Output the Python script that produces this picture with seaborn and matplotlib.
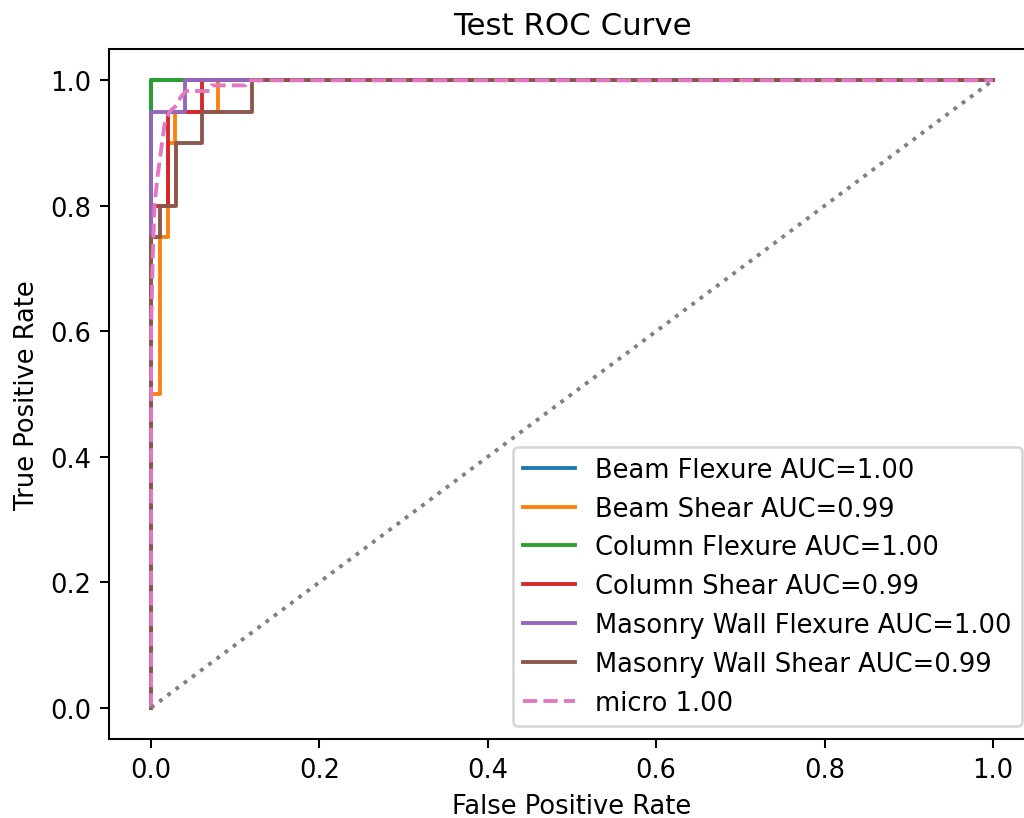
import matplotlib
matplotlib.use("Agg")
import matplotlib.pyplot as plt
import seaborn as sns
import pandas as pd

# ROC points (fpr, tpr per class)
classes = ['Beam Flexure', 'Beam Shear', 'Column Flexure', 'Column Shear',
           'Masonry Wall Flexure', 'Masonry Wall Shear']
aucs = ['1.00', '0.99', '1.00', '0.99', '1.00', '0.99']

fpr_beam_flex = [0.0, 0.0, 1.0]
tpr_beam_flex = [0.0, 1.0, 1.0]

fpr_beam_shear = [0.0, 0.0, 0.01, 0.01, 0.02, 0.02, 0.028, 0.028, 0.08, 0.08, 1.0]
tpr_beam_shear = [0.0, 0.5, 0.5, 0.75, 0.75, 0.9, 0.9, 0.95, 0.95, 1.0, 1.0]

fpr_col_flex = [0.0, 0.0, 1.0]
tpr_col_flex = [0.0, 1.0, 1.0]

fpr_col_shear = [0.0, 0.0, 0.02, 0.02, 0.06, 0.06, 1.0]
tpr_col_shear = [0.0, 0.8, 0.8, 0.95, 0.95, 1.0, 1.0]

fpr_mw_flex = [0.0, 0.0, 0.04, 0.04, 1.0]
tpr_mw_flex = [0.0, 0.95, 0.95, 1.0, 1.0]

fpr_mw_shear = [0.0, 0.0, 0.01, 0.01, 0.03, 0.03, 0.06, 0.06, 0.12, 0.12, 1.0]
tpr_mw_shear = [0.0, 0.75, 0.75, 0.8, 0.8, 0.9, 0.9, 0.95, 0.95, 1.0, 1.0]

fpr_micro = [0.0, 0.0, 0.002, 0.004, 0.008, 0.012, 0.016, 0.022, 0.03, 0.036,
             0.042, 0.07, 0.072, 0.112, 0.115, 1.0]
tpr_micro = [0.0, 0.6, 0.72, 0.8, 0.85, 0.89, 0.93, 0.95, 0.96, 0.975,
             0.983, 0.983, 0.992, 0.992, 1.0, 1.0]

curves = [(fpr_beam_flex, tpr_beam_flex), (fpr_beam_shear, tpr_beam_shear),
          (fpr_col_flex, tpr_col_flex), (fpr_col_shear, tpr_col_shear),
          (fpr_mw_flex, tpr_mw_flex), (fpr_mw_shear, tpr_mw_shear)]

colors = sns.color_palette('tab10')

# reference is a cropped hi-dpi render, so scale everything via dpi
dpi = 185
fig = plt.figure(figsize=(1024 / dpi, 819 / dpi), dpi=dpi)
ax = fig.add_axes([109 / 1024, 79 / 819, 926 / 1024, 690 / 819])

for i, (fpr, tpr) in enumerate(curves):
    df = pd.DataFrame({'fpr': fpr, 'tpr': tpr})
    sns.lineplot(data=df, x='fpr', y='tpr', sort=False, estimator=None,
                 color=colors[i], label=f'{classes[i]} AUC={aucs[i]}', ax=ax)

df_micro = pd.DataFrame({'fpr': fpr_micro, 'tpr': tpr_micro})
sns.lineplot(data=df_micro, x='fpr', y='tpr', sort=False, estimator=None,
             color=colors[6], linestyle='--', label='micro 1.00', ax=ax)

ax.plot([0, 1], [0, 1], color='gray', linestyle=':')

ax.set_title('Test ROC Curve')
ax.set_xlabel('False Positive Rate')
ax.set_ylabel('True Positive Rate')
ax.legend(loc='lower right')

fig.savefig('out.png', dpi=dpi)
